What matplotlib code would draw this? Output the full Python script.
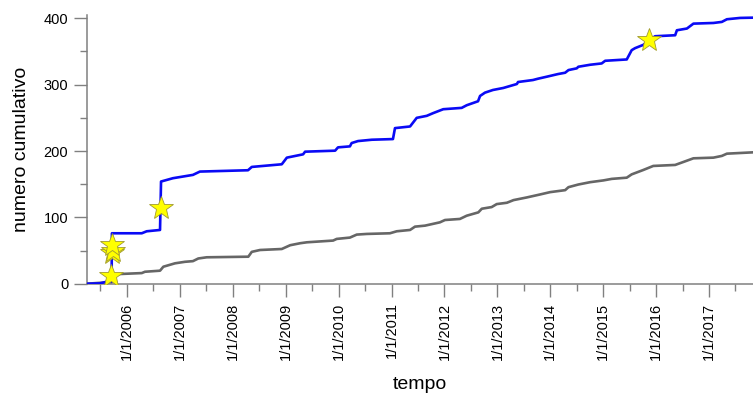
import matplotlib
matplotlib.use("Agg")
import matplotlib.pyplot as plt
import matplotlib.dates as mdates
import pandas as pd

plt.rcParams['font.family'] = ['Liberation Sans', 'DejaVu Sans']

# cumulative count, first series (blue)
blue_dates = [
    "2005-04-01", "2005-06-30", "2005-08-15", "2005-09-18", "2005-09-20",
    "2006-04-14", "2006-05-18", "2006-08-18", "2006-08-25", "2006-11-15",
    "2007-04-02", "2007-05-20", "2008-04-16", "2008-05-12", "2008-12-05",
    "2009-01-09", "2009-05-01", "2009-05-15", "2009-12-08", "2009-12-28",
    "2010-03-20", "2010-04-01", "2010-05-15", "2010-08-18", "2011-01-11",
    "2011-01-25", "2011-05-09", "2011-06-24", "2011-09-01", "2011-10-14",
    "2011-12-24", "2012-04-29", "2012-06-03", "2012-08-20", "2012-09-03",
    "2012-10-07", "2012-12-01", "2013-02-10", "2013-05-15", "2013-05-23",
    "2013-09-03", "2013-10-08", "2013-12-07", "2014-02-23", "2014-04-13",
    "2014-05-06", "2014-07-02", "2014-07-13", "2014-10-02", "2014-12-21",
    "2015-01-14", "2015-06-12", "2015-07-16", "2015-08-08", "2015-10-04",
    "2015-12-24", "2016-05-11", "2016-05-23", "2016-07-31", "2016-09-14",
    "2017-01-30", "2017-03-29", "2017-05-03", "2017-08-02", "2017-10-30",
]
blue_vals = [
    0, 0.5, 3, 3, 76,
    76, 79, 81, 154, 159,
    164, 169, 171, 176, 180,
    190, 195, 199, 200.5, 205.5,
    207, 212, 215, 217, 218,
    234.5, 237, 250, 253, 257,
    263, 265, 269, 275, 283,
    288, 292, 295, 301, 304,
    307, 309, 312, 316, 318,
    322, 324.6, 327, 330, 332,
    336, 338, 352, 355, 360,
    373, 374.5, 382, 384.6, 392,
    393, 394.6, 398.6, 400.6, 401,
]

# cumulative count, second series (grey)
grey_dates = [
    "2005-04-01", "2005-08-15", "2005-09-19", "2005-09-20", "2005-11-15",
    "2006-04-14", "2006-05-06", "2006-08-18", "2006-09-10", "2006-11-29",
    "2007-02-06", "2007-04-02", "2007-05-09", "2007-07-06", "2008-04-18",
    "2008-05-12", "2008-07-08", "2008-12-05", "2009-02-01", "2009-04-11",
    "2009-05-27", "2009-11-24", "2009-12-19", "2010-03-20", "2010-05-06",
    "2010-07-14", "2010-12-21", "2011-02-06", "2011-05-09", "2011-06-12",
    "2011-08-20", "2011-12-01", "2012-01-05", "2012-04-17", "2012-06-03",
    "2012-08-22", "2012-09-15", "2012-11-22", "2012-12-27", "2013-03-07",
    "2013-04-22", "2013-07-22", "2013-10-22", "2013-12-30", "2014-04-13",
    "2014-05-06", "2014-07-13", "2014-10-02", "2015-01-02", "2015-03-01",
    "2015-06-12", "2015-07-16", "2015-10-04", "2015-12-12", "2016-05-11",
    "2016-07-07", "2016-09-14", "2017-01-30", "2017-03-29", "2017-05-03",
    "2017-10-30",
]
grey_vals = [
    0, 2, 2, 13, 14.6,
    16, 18, 19.6, 25.6, 30.7,
    33, 34, 38, 39.8, 40.7,
    48, 50.8, 52.3, 58, 61,
    62.4, 65, 67.5, 69.5, 74,
    75, 76, 79, 81, 86,
    87.5, 92.5, 96, 97.6, 102.5,
    107.5, 113, 115.5, 120, 122,
    126, 130, 134.5, 138, 141,
    145.5, 149.5, 153, 155.7, 158,
    159.8, 164.8, 171.4, 177.5, 179,
    183.5, 189, 190, 192.6, 196,
    198,
]

# events marked with a star
star_dates = ["2005-09-17", "2005-09-23", "2005-09-25", "2005-09-24", "2006-08-25", "2015-11-11"]
star_vals = [12, 46, 49, 58, 114, 368]

blue_t = pd.to_datetime(blue_dates)
grey_t = pd.to_datetime(grey_dates)
star_t = pd.to_datetime(star_dates)

fig = plt.figure(figsize=(7.53, 3.97), dpi=100)
ax = fig.add_axes([0.1155, 0.2854, 0.8845, 0.6768])

ax.plot(grey_t, grey_vals, color='#666666', lw=1.9, zorder=2)
ax.plot(blue_t, blue_vals, color='#0a0af5', lw=1.9, zorder=3)
ax.plot(star_t, star_vals, ls='none', marker='*', ms=18,
        mfc='#ffff00', mec='#a09a30', mew=0.6, zorder=4)

ax.set_xlim(pd.Timestamp("2005-04-01"), pd.Timestamp("2017-10-30"))
ax.set_ylim(0, 405)

ax.xaxis.set_major_locator(mdates.YearLocator())
ax.xaxis.set_minor_locator(mdates.MonthLocator(bymonth=7))


def date_label(x, pos):
    d = mdates.num2date(x)
    return f"{d.month}/{d.day}/{d.year}"


ax.xaxis.set_major_formatter(plt.FuncFormatter(date_label))
ax.set_yticks([0, 100, 200, 300, 400])
ax.set_yticks([50, 150, 250, 350], minor=True)

for s in ['top', 'right']:
    ax.spines[s].set_visible(False)
for s in ['left', 'bottom']:
    ax.spines[s].set_color('#808080')
    ax.spines[s].set_linewidth(1.1)

ax.tick_params(which='major', length=9.5, width=1, color='#808080',
               labelsize=10.5, pad=4)
ax.tick_params(which='minor', length=4.8, width=1, color='#808080')
ax.tick_params(axis='x', which='major', labelrotation=90)

ax.set_xlabel('tempo', fontsize=14, labelpad=12)
ax.set_ylabel('numero cumulativo', fontsize=14, labelpad=10)

fig.savefig('out.png', dpi=100)
